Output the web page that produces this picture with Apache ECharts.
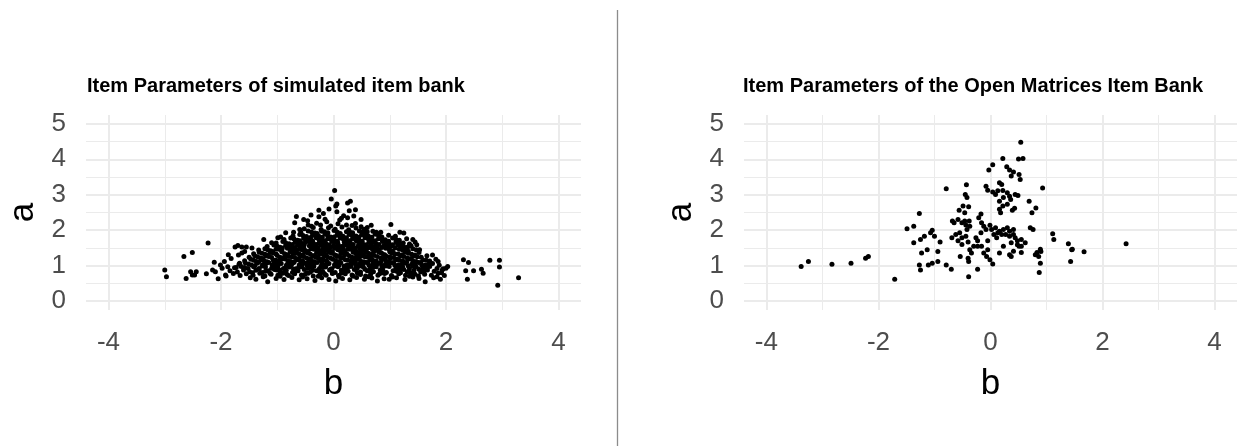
<!DOCTYPE html>
<html><head><meta charset="utf-8">
<script src="https://cdn.jsdelivr.net/npm/echarts@6/dist/echarts.min.js"></script>
<style>html,body{margin:0;padding:0;background:#fff}#c{width:1237px;height:446px}</style>
</head><body><div id="c"></div>
<script>
const titles = ['Item Parameters of simulated item bank', 'Item Parameters of the Open Matrices Item Bank'];
const xTicks = [-4, -2, 0, 2, 4];
const xMinor = [-3, -1, 1, 3];
const yTicks = [0, 1, 2, 3, 4, 5];
const yMinor = [0.5, 1.5, 2.5, 3.5, 4.5];

// simulated item bank: [b, a]
const simOutliers = [[-3.00,0.88],[-2.97,0.69],[-2.66,1.26],[-2.51,1.37],[-2.62,0.64],[-2.51,0.74],[-2.54,0.83],[-2.44,0.83],[-2.47,0.74],
 [-2.23,1.64],[-2.26,0.77],[-2.15,0.88],[-2.12,1.10],[-2.05,0.63],[-2.10,0.83],[-2.01,1.02],[-1.98,0.93],[-1.94,1.12],[-1.91,0.71],[-1.87,1.31],
 [-1.75,1.53],[-1.67,1.07],[-1.63,1.36],[-1.55,1.53],[-1.82,1.20],[-1.73,0.95],[-1.69,1.30],[-1.88,0.97],[-1.58,1.40],
 [1.86,1.12],[2.00,0.93],[1.84,0.69],[2.31,1.17],[2.40,1.09],[2.38,0.62],[2.35,0.86],[2.49,0.86],[2.63,0.90],[2.66,0.79],[2.78,1.15],
 [2.95,1.15],[2.95,0.96],[2.92,0.45],[3.29,0.66],[1.88,1.01],[1.95,0.91],[1.82,1.18],[1.76,1.30],[1.92,0.80],[2.03,0.98]];
const simTop = [[0.02,3.12],[-0.04,2.88],[0.04,2.68],[0.06,2.74],[0.25,2.77],[0.30,2.82],[0.39,2.58],[-0.26,2.56],[-0.18,2.47],[-0.66,2.39],
 [-0.69,2.21],[-0.53,2.30],[-0.46,2.27],[-0.26,2.38],[0.25,2.35],[0.49,2.30],[0.67,2.14],[1.02,2.16],[1.18,1.94],[1.25,1.92],[-0.94,1.81],
 [-0.85,1.93],[0.18,2.41],[0.28,2.55],[0.23,2.15],[0.11,2.29],[-0.12,2.24],[-0.23,2.15],[-0.39,2.11],[0.39,2.19],[0.49,2.10],[0.60,1.96],
 [0.78,1.91],[0.81,1.86],[1.41,1.74],[1.45,1.67],[1.48,1.59],[-1.63,1.53],[-1.70,1.57],[-1.45,1.50],[-1.24,1.74],[-1.10,1.65],[-0.99,1.79],
 [-0.71,1.94],[-0.60,2.02]];
const simCore = [
 [-1.48,0.66],[-1.38,0.62],[-1.17,0.55],[-1.02,0.64],[-0.88,0.61],[-0.74,0.67],[-0.61,0.60],[-0.47,0.63],[-0.33,0.58],[-0.21,0.66],[-0.08,0.61],[0.04,0.57],[0.16,0.64],[0.29,0.60],[0.41,0.67],[0.55,0.62],[0.68,0.65],[0.78,0.57],[0.90,0.63],[0.99,0.62],[1.12,0.66],[1.27,0.61],[1.41,0.68],[1.52,0.64],[1.63,0.55],[1.78,0.66],[1.90,0.62],
 [-1.92,0.74],[-1.78,0.78],[-1.66,0.72],[-1.55,0.77],[-1.43,0.73],[-1.31,0.79],[-1.22,0.71],[-1.11,0.76],[-0.99,0.73],[-0.91,0.79],[-0.80,0.72],[-0.69,0.77],[-0.57,0.74],[-0.45,0.79],[-0.36,0.71],[-0.24,0.76],[-0.13,0.73],[-0.02,0.78],[0.09,0.72],[0.21,0.77],[0.33,0.74],[0.44,0.79],[0.57,0.71],[0.66,0.76],[0.79,0.73],[0.91,0.78],[1.03,0.72],[1.16,0.77],[1.28,0.73],[1.39,0.78],[1.51,0.71],[1.62,0.76],[1.74,0.73],[1.86,0.79],[1.97,0.72],
 [-1.84,0.86],[-1.71,0.82],[-1.60,0.88],[-1.49,0.83],[-1.38,0.87],[-1.27,0.81],[-1.16,0.86],[-1.05,0.89],[-0.95,0.83],[-0.84,0.87],[-0.73,0.81],[-0.63,0.86],[-0.52,0.89],[-0.41,0.82],[-0.30,0.86],[-0.19,0.83],[-0.07,0.88],[0.03,0.81],[0.14,0.87],[0.26,0.84],[0.37,0.89],[0.48,0.82],[0.60,0.86],[0.71,0.83],[0.83,0.88],[0.94,0.81],[1.06,0.86],[1.18,0.89],[1.31,0.83],[1.43,0.87],[1.55,0.82],[1.67,0.88],[1.79,0.84],[1.93,0.87],
 [-1.76,0.94],[-1.64,0.98],[-1.52,0.92],[-1.42,0.97],[-1.33,0.91],[-1.21,0.96],[-1.10,0.93],[-0.99,0.98],[-0.89,0.92],[-0.78,0.96],[-0.67,0.91],[-0.56,0.97],[-0.46,0.93],[-0.35,0.98],[-0.25,0.92],[-0.14,0.96],[-0.03,0.91],[0.08,0.97],[0.19,0.93],[0.31,0.98],[0.42,0.92],[0.53,0.96],[0.65,0.91],[0.76,0.97],[0.87,0.93],[0.99,0.98],[1.11,0.92],[1.23,0.96],[1.35,0.91],[1.47,0.97],[1.59,0.93],[1.71,0.98],[1.84,0.92],
 [-1.68,1.04],[-1.57,1.08],[-1.46,1.02],[-1.36,1.07],[-1.25,1.03],[-1.15,1.09],[-1.04,1.01],[-0.93,1.06],[-0.83,1.03],[-0.72,1.08],[-0.61,1.02],[-0.50,1.07],[-0.40,1.04],[-0.29,1.09],[-0.18,1.01],[-0.08,1.06],[0.02,1.03],[0.13,1.08],[0.24,1.02],[0.35,1.07],[0.46,1.04],[0.58,1.09],[0.69,1.01],[0.80,1.06],[0.92,1.03],[1.03,1.08],[1.15,1.02],[1.27,1.07],[1.39,1.04],[1.51,1.09],[1.63,1.02],[1.76,1.06],
 [-1.58,1.14],[-1.47,1.18],[-1.37,1.12],[-1.28,1.17],[-1.18,1.11],[-1.07,1.16],[-0.97,1.13],[-0.86,1.19],[-0.76,1.12],[-0.65,1.17],[-0.55,1.14],[-0.44,1.19],[-0.34,1.11],[-0.23,1.16],[-0.12,1.13],[-0.01,1.18],[0.10,1.12],[0.21,1.17],[0.32,1.14],[0.43,1.19],[0.54,1.11],[0.65,1.16],[0.76,1.13],[0.88,1.18],[0.99,1.12],[1.11,1.17],[1.23,1.14],[1.35,1.19],[1.47,1.12],[1.59,1.16],[1.71,1.13],
 [-1.50,1.24],[-1.40,1.28],[-1.30,1.22],[-1.20,1.27],[-1.10,1.23],[-1.00,1.29],[-0.90,1.21],[-0.79,1.26],[-0.69,1.23],[-0.58,1.28],[-0.48,1.22],[-0.37,1.27],[-0.27,1.24],[-0.16,1.29],[-0.05,1.21],[0.06,1.26],[0.17,1.23],[0.28,1.28],[0.39,1.22],[0.50,1.27],[0.61,1.24],[0.72,1.29],[0.84,1.21],[0.95,1.26],[1.07,1.23],[1.19,1.28],[1.31,1.22],[1.43,1.27],[1.56,1.24],[1.66,1.28],
 [-1.42,1.34],[-1.32,1.38],[-1.22,1.32],[-1.12,1.37],[-1.02,1.33],[-0.92,1.39],[-0.82,1.31],[-0.72,1.36],[-0.61,1.33],[-0.51,1.38],[-0.41,1.32],[-0.30,1.37],[-0.20,1.34],[-0.09,1.39],[0.02,1.31],[0.13,1.36],[0.24,1.33],[0.35,1.38],[0.46,1.32],[0.57,1.37],[0.68,1.34],[0.80,1.39],[0.91,1.31],[1.03,1.36],[1.15,1.33],[1.27,1.38],[1.39,1.32],[1.52,1.37],
 [-1.33,1.44],[-1.22,1.48],[-1.12,1.42],[-1.02,1.47],[-0.92,1.43],[-0.82,1.49],[-0.71,1.41],[-0.61,1.46],[-0.50,1.43],[-0.40,1.48],[-0.29,1.42],[-0.19,1.47],[-0.08,1.44],[0.03,1.49],[0.14,1.41],[0.25,1.46],[0.36,1.43],[0.47,1.48],[0.58,1.42],[0.69,1.47],[0.81,1.44],[0.93,1.49],[1.05,1.41],[1.17,1.46],[1.29,1.43],[1.41,1.48],[1.53,1.45],
 [-1.18,1.54],[-1.06,1.58],[-0.95,1.52],[-0.85,1.57],[-0.74,1.53],[-0.64,1.59],[-0.53,1.51],[-0.43,1.56],[-0.32,1.53],[-0.22,1.58],[-0.11,1.52],[0.00,1.57],[0.11,1.54],[0.22,1.59],[0.33,1.51],[0.44,1.56],[0.55,1.53],[0.66,1.58],[0.78,1.52],[0.90,1.57],[1.02,1.54],[1.14,1.59],[1.26,1.52],[1.38,1.56],
 [-1.02,1.64],[-0.90,1.68],[-0.79,1.62],[-0.68,1.67],[-0.57,1.63],[-0.46,1.69],[-0.35,1.61],[-0.25,1.66],[-0.14,1.63],[-0.03,1.68],[0.08,1.62],[0.19,1.67],[0.30,1.64],[0.41,1.69],[0.52,1.61],[0.63,1.66],[0.75,1.63],[0.87,1.68],[0.99,1.62],[1.11,1.67],[1.24,1.64],[1.35,1.61],
 [-0.88,1.74],[-0.76,1.78],[-0.64,1.72],[-0.53,1.77],[-0.42,1.73],[-0.31,1.79],[-0.20,1.71],[-0.10,1.76],[0.01,1.73],[0.12,1.78],[0.23,1.72],[0.34,1.77],[0.45,1.74],[0.56,1.79],[0.68,1.71],[0.80,1.76],[0.92,1.73],[1.05,1.78],[1.17,1.72],[1.30,1.76],
 [-0.72,1.84],[-0.60,1.88],[-0.48,1.82],[-0.37,1.87],[-0.26,1.83],[-0.15,1.89],[-0.05,1.81],[0.06,1.86],[0.17,1.83],[0.28,1.88],[0.39,1.82],[0.50,1.87],[0.62,1.84],[0.74,1.89],[0.86,1.81],[0.98,1.86],[1.10,1.83],
 [-0.58,1.94],[-0.45,1.98],[-0.33,1.92],[-0.21,1.97],[-0.10,1.93],[0.01,1.99],[0.12,1.91],[0.23,1.96],[0.34,1.93],[0.46,1.98],[0.57,1.92],[0.70,1.97],[0.84,1.94],
 [-0.52,2.04],[-0.36,2.08],[-0.22,2.02],[-0.09,2.07],[0.03,2.03],[0.15,2.09],[0.27,2.01],[0.40,2.06],[0.55,2.03],
 [-0.75,1.01],[-0.58,1.12],[-0.42,0.95],[-0.27,1.21],[-0.11,1.05],[0.05,1.29],[0.19,0.99],[0.37,1.15],[0.52,1.31],[0.71,1.09],[-0.66,1.41],[-0.39,1.55],[-0.17,1.36],[0.09,1.47],[0.28,1.62],[0.49,1.41],[0.64,1.52],[-0.50,1.66],[-0.04,1.75],[0.16,1.55],[0.40,1.84],[-0.29,1.91],[0.22,1.72],[-0.86,1.28],[0.85,1.36],[-1.06,1.12],[1.01,1.22],[-0.96,0.88],[0.96,1.04]
];
const simCoreDense = [
 [-1.25,0.69],[-0.95,0.70],[-0.55,0.68],[-0.27,0.70],[0.10,0.68],[0.35,0.70],[0.62,0.69],[1.05,0.68],[1.35,0.70],
 [-1.44,0.80],[-1.21,0.84],[-0.89,0.80],[-0.68,0.84],[-0.47,0.80],[-0.25,0.84],[-0.02,0.80],[0.20,0.84],[0.42,0.80],[0.65,0.84],[0.88,0.80],[1.12,0.84],[1.37,0.80],[1.61,0.84],
 [-1.58,0.95],[-1.27,0.99],[-1.05,0.95],[-0.84,0.99],[-0.62,0.95],[-0.40,0.99],[-0.19,0.95],[0.02,0.99],[0.25,0.95],[0.47,0.99],[0.70,0.95],[0.93,0.99],[1.17,0.95],[1.41,0.99],[1.65,0.95],
 [-1.51,1.05],[-1.20,1.06],[-0.98,1.04],[-0.77,1.06],[-0.56,1.04],[-0.34,1.06],[-0.13,1.04],[0.08,1.06],[0.30,1.04],[0.52,1.06],[0.75,1.04],[0.97,1.06],[1.21,1.04],[1.45,1.06],[1.69,1.04],
 [-1.42,1.15],[-1.23,1.14],[-1.02,1.15],[-0.81,1.14],[-0.60,1.15],[-0.39,1.14],[-0.18,1.15],[0.04,1.14],[0.26,1.15],[0.48,1.14],[0.70,1.15],[0.93,1.14],[1.17,1.15],[1.41,1.14],[1.65,1.15],
 [-1.35,1.25],[-1.15,1.26],[-0.95,1.24],[-0.74,1.25],[-0.53,1.26],[-0.32,1.24],[-0.11,1.25],[0.11,1.26],[0.33,1.24],[0.56,1.25],[0.78,1.26],[1.01,1.24],[1.25,1.26],[1.49,1.25],
 [-1.27,1.35],[-1.07,1.36],[-0.87,1.34],[-0.67,1.35],[-0.46,1.36],[-0.25,1.34],[-0.04,1.35],[0.18,1.36],[0.40,1.34],[0.62,1.35],[0.85,1.36],[1.09,1.34],[1.33,1.35],
 [-1.17,1.45],[-0.97,1.46],[-0.76,1.44],[-0.56,1.45],[-0.35,1.46],[-0.14,1.44],[0.08,1.45],[0.30,1.46],[0.52,1.44],[0.75,1.45],[0.99,1.46],[1.23,1.44],[1.47,1.45],
 [-1.00,1.55],[-0.80,1.56],[-0.59,1.54],[-0.38,1.55],[-0.17,1.56],[0.05,1.54],[0.27,1.55],[0.49,1.56],[0.72,1.54],[0.96,1.55],[1.20,1.56],[1.32,1.53],
 [-0.85,1.65],[-0.63,1.66],[-0.41,1.64],[-0.20,1.65],[0.02,1.66],[0.24,1.64],[0.46,1.65],[0.69,1.66],[0.93,1.64],[1.17,1.65],
 [-0.70,1.75],[-0.48,1.76],[-0.26,1.74],[-0.05,1.75],[0.17,1.76],[0.39,1.74],[0.62,1.75],[0.86,1.76],[1.11,1.74],
 [-0.54,1.85],[-0.32,1.86],[-0.10,1.84],[0.11,1.85],[0.33,1.86],[0.56,1.84],[0.80,1.85],
 [-0.39,1.95],[-0.16,1.96],[0.07,1.94],[0.29,1.95],[0.51,1.96],[0.76,1.94],[-0.45,2.15],[-0.30,2.20],[-0.05,2.12],[0.08,2.18],[0.33,2.13],[0.60,2.08],
 [-0.15,2.31],[0.14,2.34],[0.36,2.40],[-0.40,2.43],[0.06,2.52],[-0.08,2.60]
];
const simCoreFill = [
 [-1.13,0.79],[-0.83,0.76],[-0.51,0.75],[-0.16,0.77],[0.14,0.79],[0.48,0.75],[0.82,0.77],[1.19,0.80],[1.45,0.76],
 [-1.32,0.91],[-1.01,0.88],[-0.71,0.90],[-0.37,0.87],[-0.05,0.90],[0.23,0.88],[0.56,0.90],[0.88,0.86],[1.25,0.89],[1.52,0.90],
 [-1.40,1.00],[-1.09,1.02],[-0.80,1.00],[-0.47,1.01],[-0.22,0.99],[0.10,1.01],[0.40,0.99],[0.63,1.01],[0.86,0.99],[1.09,1.01],[1.33,0.99],[1.57,1.01],
 [-1.33,1.10],[-1.01,1.09],[-0.70,1.10],[-0.46,1.09],[-0.21,1.10],[0.07,1.09],[0.39,1.10],[0.61,1.09],[0.84,1.10],[1.07,1.09],[1.30,1.10],[1.55,1.09],
 [-1.26,1.20],[-0.92,1.19],[-0.62,1.20],[-0.41,1.19],[-0.19,1.20],[0.14,1.21],[0.45,1.20],[0.67,1.19],[0.91,1.20],[1.13,1.19],[1.38,1.20],
 [-1.18,1.30],[-0.85,1.31],[-0.55,1.30],[-0.34,1.29],[-0.13,1.30],[0.20,1.31],[0.43,1.29],[0.66,1.30],[0.89,1.31],[1.21,1.30],[1.45,1.30],
 [-1.08,1.40],[-0.77,1.39],[-0.45,1.40],[-0.24,1.41],[-0.02,1.40],[0.20,1.39],[0.41,1.40],[0.72,1.40],[1.00,1.39],[1.33,1.41],
 [-0.91,1.50],[-0.68,1.51],[-0.27,1.50],[-0.05,1.51],[0.17,1.50],[0.39,1.49],[0.61,1.50],[0.86,1.51],[1.10,1.50],
 [-0.73,1.60],[-0.52,1.59],[-0.30,1.60],[-0.08,1.59],[0.35,1.60],[0.58,1.59],[0.81,1.60],[1.05,1.59],
 [-0.60,1.70],[-0.37,1.69],[-0.15,1.70],[0.07,1.69],[0.29,1.70],[0.51,1.69],[0.74,1.70],[0.98,1.69],
 [-0.40,1.80],[-0.20,1.80],[0.01,1.81],[0.23,1.79],[0.45,1.80],[0.68,1.80]
];

// Open Matrices item bank: [b, a]
const omItems = [
 [0.54,4.48],[0.50,4.01],[0.58,4.02],[0.22,4.02],[0.04,3.85],[-0.03,3.70],[0.29,3.79],[0.34,3.70],[0.41,3.64],[0.37,3.53],[0.51,3.57],[0.53,3.43],
 [-0.79,3.17],[-0.43,3.28],[0.93,3.19],[-0.08,3.24],[-0.05,3.13],[0.16,3.34],[0.20,3.29],[0.13,3.11],[0.04,3.08],[0.09,3.01],[0.22,3.12],[0.30,3.06],
 [0.34,2.96],[0.44,3.01],[0.49,2.98],[0.23,2.92],[0.16,2.82],[0.22,2.68],[0.30,2.73],[0.36,2.87],[-0.45,3.01],[-0.42,2.92],[-0.39,2.66],
 [0.69,2.82],[0.81,2.63],[0.74,2.49],[-0.56,2.56],[-0.49,2.68],[-0.46,2.49],[-0.17,2.46],[-0.21,2.35],[0.18,2.49],[0.16,2.59],[0.39,2.56],[0.43,2.62],
 [-1.27,2.47],[-0.68,2.26],[-0.65,2.21],[-0.58,2.30],[-0.51,2.21],[-0.46,2.26],[-0.44,2.15],[-0.38,2.26],[-0.42,2.02],[-0.37,2.11],[-1.49,2.04],[-1.37,2.11],
 [-0.16,2.21],[-0.12,2.11],[-0.08,2.02],[-0.17,1.93],[-0.01,2.14],[0.02,2.02],[0.09,2.07],[0.13,1.93],[0.16,1.97],[0.23,2.02],[0.30,2.07],[0.34,1.97],
 [0.41,2.02],[0.20,1.88],[0.27,1.88],[0.06,1.88],[0.11,1.79],[0.34,1.83],[0.41,1.88],[0.71,2.07],[0.76,2.02],
 [-1.25,1.74],[-1.18,1.83],[-1.07,1.93],[-1.00,1.83],[-1.04,2.00],[-1.37,1.65],[-0.90,1.67],[-0.69,1.79],[-0.62,1.88],[-0.55,1.93],[-0.51,1.79],[-0.58,1.70],
 [-0.44,1.83],[-0.40,1.67],[-0.51,1.60],[-0.26,1.79],[-0.23,1.70],[-0.30,1.55],[-0.16,1.55],[-0.05,1.70],[0.44,1.79],[0.48,1.70],[0.55,1.74],[0.37,1.65],
 [0.51,1.55],[0.62,1.65],[0.41,1.41],[0.55,1.37],[1.11,1.90],[1.13,1.74],[1.39,1.62],[1.46,1.46],[1.67,1.39],[2.42,1.62],[0.89,1.46],[0.83,1.37],
 [-3.38,0.98],[-3.25,1.12],[-2.83,1.04],[-2.49,1.07],[-2.23,1.21],[-2.18,1.26],[-1.71,0.62],[-1.27,1.02],[-1.25,0.88],[-1.23,1.36],[-1.11,1.02],
 [-1.04,1.07],[-0.94,1.12],[-0.79,1.02],[-0.70,0.90],[-0.94,1.40],[-1.13,1.45],[-0.54,1.26],[-0.40,1.21],[-0.39,1.12],[-0.39,0.69],[-0.23,0.90],
 [-0.37,1.45],[-0.34,1.36],[-0.12,1.36],[-0.07,1.26],[-0.01,1.17],[0.04,1.05],[-0.05,1.45],[-0.23,1.55],[0.16,1.36],[0.23,1.55],[0.34,1.31],[0.37,1.26],
 [0.48,1.59],[0.55,1.55],[0.80,1.31],[0.86,1.26],[0.90,1.40],[0.89,1.07],[0.87,0.81],[1.43,1.12],[1.45,1.45]
];

const FONT = "'Liberation Sans', Arial, sans-serif";
const GRIDS = [
  {left: 86, top: 115, width: 495, height: 195},
  {left: 744, top: 115, width: 493, height: 195}
];
const simItems = simOutliers.concat(simTop, simCore, simCoreDense, simCoreFill);

const xAxes = [], yAxes = [];
GRIDS.forEach((g, i) => {
  xAxes.push({
    gridIndex: i, type: 'value', min: -4.4, max: 4.4, position: 'bottom',
    name: 'b', nameLocation: 'middle', nameGap: 57,
    nameTextStyle: {fontFamily: FONT, fontSize: 35, color: '#000'},
    axisLine: {show: false}, axisTick: {show: false, customValues: xTicks},
    axisLabel: {customValues: xTicks, fontFamily: FONT, fontSize: 26, color: '#4d4d4d', margin: 20},
    splitLine: {show: true, lineStyle: {color: '#ebebeb', width: 2}}
  });
  xAxes.push({
    gridIndex: i, type: 'value', min: -4.4, max: 4.4, position: 'bottom',
    axisLine: {show: false}, axisTick: {show: false, customValues: xMinor},
    axisLabel: {show: false, customValues: xMinor},
    splitLine: {show: true, lineStyle: {color: '#ebebeb', width: 1}}
  });
  yAxes.push({
    gridIndex: i, type: 'value', min: -0.25, max: 5.25, position: 'left',
    name: 'a', nameLocation: 'middle', nameGap: 45, nameRotate: 90,
    nameTextStyle: {fontFamily: FONT, fontSize: 35, color: '#000'},
    axisLine: {show: false}, axisTick: {show: false, customValues: yTicks},
    axisLabel: {customValues: yTicks, fontFamily: FONT, fontSize: 26, color: '#4d4d4d', margin: 20},
    splitLine: {show: true, lineStyle: {color: '#ebebeb', width: 2}}
  });
  yAxes.push({
    gridIndex: i, type: 'value', min: -0.25, max: 5.25, position: 'left',
    axisLine: {show: false}, axisTick: {show: false, customValues: yMinor},
    axisLabel: {show: false, customValues: yMinor},
    splitLine: {show: true, lineStyle: {color: '#ebebeb', width: 1}}
  });
});

const chart = echarts.init(document.getElementById('c'), null, {renderer: 'canvas'});
chart.setOption({
  animation: false,
  backgroundColor: '#fff',
  title: [
    {text: titles[0], left: 82, top: 71, textStyle: {fontFamily: FONT, fontSize: 20, fontWeight: 'bold', color: '#000'}},
    {text: titles[1], left: 738, top: 71, textStyle: {fontFamily: FONT, fontSize: 20, fontWeight: 'bold', color: '#000'}}
  ],
  grid: GRIDS,
  xAxis: xAxes,
  yAxis: yAxes,
  series: [
    {type: 'scatter', xAxisIndex: 0, yAxisIndex: 0, data: simItems, symbolSize: 5, itemStyle: {color: '#000', opacity: 1}, silent: true},
    {type: 'scatter', xAxisIndex: 2, yAxisIndex: 2, data: omItems, symbolSize: 5, itemStyle: {color: '#000', opacity: 1}, silent: true}
  ],
  graphic: [
    {type: 'line', shape: {x1: 617.5, y1: 10, x2: 617.5, y2: 446}, style: {stroke: '#8c8c8c', lineWidth: 1.3}, silent: true}
  ]
});
</script></body></html>
